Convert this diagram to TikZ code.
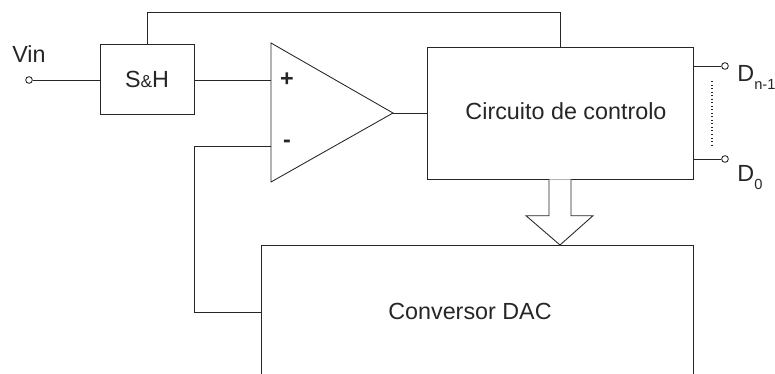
\documentclass[tikz,border=0pt]{standalone}
\usepackage{fontspec}
\setmainfont{Liberation Sans}
\usepackage{tikz}

\tikzset{
  block/.style={draw, rectangle, inner sep=0pt},
  pincirc/.style={draw, circle, inner sep=0pt, minimum size=5pt, fill=white},
  wire/.style={line width=0.65pt, color=black!85},
}
\newcommand{\subtxt}[1]{\raisebox{-5.3pt}{\fontsize{11}{12}\selectfont #1}}

\begin{document}
\begin{tikzpicture}[x=0.75pt,y=0.75pt,yscale=-1,xscale=1, font=\fontsize{17.5}{21}\selectfont, every path/.style={wire}]
\useasboundingbox (0,0) rectangle (775,374);

%Shape: Rectangle S&H
\node [block, minimum width=70.5pt, minimum height=52.5pt] (sh) at (147,79) {};
%Shape: Rectangle control circuit
\node [block, minimum width=199.5pt, minimum height=99pt] (ctrl) at (560,113) {};
%Shape: Triangle op-amp
\draw (271,43) -- (393,113) -- (271,182) -- cycle ;
\coordinate (plus) at (271,80);
\coordinate (minus) at (271,146);
\coordinate (out) at (393,113);
%Shape: DAC block (open at the bottom)
\draw (261,374) -- (261,245) -- (693,245) -- (693,374) ;
\coordinate (dacw) at (261,312);

%Input pin
\node [pincirc] (vin) at (29,80) {};
%Output pins
\node [pincirc] (dn) at (725,66) {};
\node [pincirc] (d0) at (725,159) {};

%Straight Lines
\draw (vin) -- (sh.west |- vin) ;
\draw (sh.east |- plus) -- (plus) ;
\draw (out) -- (ctrl.west |- out) ;
\draw (sh.north) -- ++(0,-31) -| (ctrl.north) ;
\draw (minus) -| (194,312) -- (dacw) ;
\draw (ctrl.east |- dn) -- (dn) ;
\draw (ctrl.east |- d0) -- (d0) ;
%Dotted line between outputs
\draw [dotted, line width=0.9pt] (712,81) -- (712,145) ;

%Shape: Hollow arrow control -> DAC
\draw [fill=white] (549,179.5) -- (549,215.7) -- (526,215.7) -- (560,245) -- (593,215.7) -- (571,215.7) -- (571,179.5) ;

% Text Node
\node [inner sep=0pt] (vinlbl) at (29,54) {Vin};
% Text Node
\node [inner sep=0pt] (shlbl) at (sh) {S{\fontsize{13}{14}\selectfont\&}H};
% Text Node
\node [inner sep=0pt, font=\fontsize{17.5}{21}\selectfont\bfseries] (pluslbl) at (287,80) {+};
% Text Node
\node [inner sep=0pt, font=\fontsize{17.5}{21}\selectfont\bfseries] (minuslbl) at (287,144) {-};
% Text Node
\node [inner sep=0pt] (ctrllbl) at (566,111) {Circuito de controlo};
% Text Node
\node [inner sep=0pt] (daclbl) at (470,311.5) {Conversor DAC};
% Text Node
\node [inner sep=0pt, anchor=base west] (dnlbl) at (737,82) {D\subtxt{n-1}};
% Text Node
\node [inner sep=0pt, anchor=base west] (d0lbl) at (737,182) {D\subtxt{0}};

\end{tikzpicture}
\end{document}
